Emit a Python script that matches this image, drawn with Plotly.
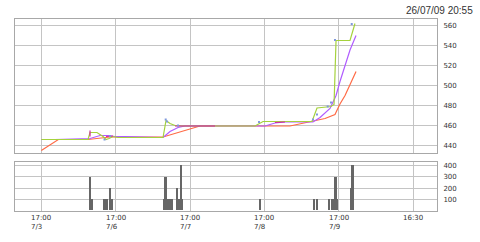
import plotly.graph_objects as go

# x in "session days": 0 = 17:00 7/3, 1 = 17:00 7/6, ... 5 = 16:30
tick_vals = [0, 1, 2, 3, 4, 5]
tick_top = ["17:00", "17:00", "17:00", "17:00", "17:00", "16:30"]
tick_bot = ["7/3", "7/6", "7/7", "7/8", "7/9", ""]

green_x = [0, 0.184, 0.628, 0.655, 0.749, 0.830, 0.870, 0.911, 0.964, 1.032, 1.637, 1.677, 1.731, 1.798, 1.892,
           2.874, 2.928, 2.982, 3.641, 3.708, 3.896, 3.937, 3.964, 4.152, 4.219]
green_y = [446, 446, 446, 453, 453, 449, 446, 447, 449, 448, 448, 465, 462, 460, 459.5,
           459.5, 462, 464, 464, 477.5, 479, 481, 545, 545, 562]

purple_x = [0, 0.184, 0.655, 0.722, 0.790, 0.897, 0.991, 1.126, 1.637, 1.731, 1.839, 1.933, 3.009, 3.143, 3.277,
            3.654, 3.749, 3.883, 3.964, 4.017, 4.085, 4.152, 4.233]
purple_y = [446, 446, 447, 448.5, 450, 450, 449, 449, 448, 454, 458, 459.5, 459.5, 462.5, 463.5,
            463.5, 468, 477, 490, 504, 520.5, 535.5, 550]

orange_x = [0, 0.229, 0.628, 0.790, 0.924, 1.637, 2.134, 3.344, 3.654, 3.816, 3.950, 4.017, 4.085, 4.152, 4.233]
orange_y = [435, 446, 446, 447.5, 448.5, 448.5, 459.5, 459.5, 464, 467, 471, 481.5, 490, 501.5, 514]

magenta_x = [0.655, 0.655, None, 0.870, 0.964, None, 1.798, 2.336, None, 3.143, 3.277]
magenta_y = [455, 449, None, 449, 449.5, None, 459.5, 459.5, None, 463, 463.5]

signal_x = [0.850, 0.924, 1.673, 1.691, 1.839, 2.928, 3.654, 3.708, 3.852, 3.896, 3.950, 4.175]
signal_y = [446, 449.5, 466, 464, 460, 463.5, 466, 471, 479, 483, 545.5, 561.5]

vol_x = [0.655, 0.686, 0.850, 0.870, 0.890, 0.931, 0.951,
         1.650, 1.673, 1.691, 1.711, 1.738, 1.765, 1.832, 1.852, 1.879, 1.899,
         2.941, 3.668, 3.708, 3.870, 3.910, 3.930, 3.960, 3.977, 4.172, 4.188]
vol_y = [300, 100, 100, 100, 100, 200, 100,
         100, 300, 100, 100, 100, 100, 200, 100, 400, 100,
         100, 100, 100, 100, 100, 100, 300, 100, 200, 400]

XR = [-0.354, 5.322]
GRID = "#c4c4c4"
BORDER = "#a8a8a8"
FONT = dict(family="DejaVu Sans", size=7, color="#333333")

fig = go.Figure()
fig.add_trace(go.Scatter(x=orange_x, y=orange_y, mode="lines", line=dict(color="#ff6a45", width=1.2),
                         xaxis="x", yaxis="y", hoverinfo="skip"))
fig.add_trace(go.Scatter(x=purple_x, y=purple_y, mode="lines", line=dict(color="#b05cff", width=1.2),
                         xaxis="x", yaxis="y", hoverinfo="skip"))
fig.add_trace(go.Scatter(x=green_x, y=green_y, mode="lines", line=dict(color="#a5d23c", width=1.2),
                         xaxis="x", yaxis="y", hoverinfo="skip"))
fig.add_trace(go.Scatter(x=magenta_x, y=magenta_y, mode="lines", line=dict(color="#d0279a", width=1.2),
                         connectgaps=False, xaxis="x", yaxis="y", hoverinfo="skip"))
fig.add_trace(go.Scatter(x=signal_x, y=signal_y, mode="markers",
                         marker=dict(color="#7f99dd", size=2, symbol="square", line=dict(width=0)),
                         xaxis="x", yaxis="y", hoverinfo="skip"))
fig.add_trace(go.Bar(x=vol_x, y=vol_y, width=0.022, marker=dict(color="#666666", line=dict(width=0)),
                     xaxis="x2", yaxis="y2", hoverinfo="skip"))

axis_common = dict(showgrid=True, gridcolor=GRID, gridwidth=1, zeroline=False, showline=True,
                   linecolor=BORDER, linewidth=1, mirror=True, ticks="", fixedrange=True)

fig.update_layout(
    width=480, height=242,
    margin=dict(l=15, r=43, t=19, b=31),
    paper_bgcolor="white", plot_bgcolor="white",
    showlegend=False,
    font=FONT,
    xaxis=dict(domain=[0, 1], range=XR, tickvals=tick_vals, showticklabels=False, anchor="y", **axis_common),
    yaxis=dict(domain=[0.302, 1], range=[432.5, 566.5], tickvals=[440, 460, 480, 500, 520, 540, 560],
               side="right", anchor="x", tickfont=FONT, ticklabelstandoff=4, **axis_common),
    xaxis2=dict(domain=[0, 1], range=XR, tickvals=tick_vals, showticklabels=False, anchor="y2", **axis_common),
    yaxis2=dict(domain=[0, 0.2536], range=[-4, 430], tickvals=[100, 200, 300, 400],
                side="right", anchor="x2", tickfont=FONT, ticklabelstandoff=4, **axis_common),
    bargap=0,
)

annotations = []
for v, t, b in zip(tick_vals, tick_top, tick_bot):
    txt = t if not b else t + "<br>" + b
    annotations.append(dict(x=v, y=0, xref="x2", yref="paper", text=txt, showarrow=False,
                            xanchor="center", yanchor="top", align="left", yshift=-1,
                            font=FONT))
annotations.append(dict(x=1 + (475 - 437) / 422, y=1 + (19 - 11) / 192, xref="paper", yref="paper",
                        text="26/07/09 20:55", showarrow=False, xanchor="right", yanchor="middle",
                        font=dict(family="Liberation Sans", size=10, color="#333333")))
fig.update_layout(annotations=annotations)

fig.write_html("out.html")
